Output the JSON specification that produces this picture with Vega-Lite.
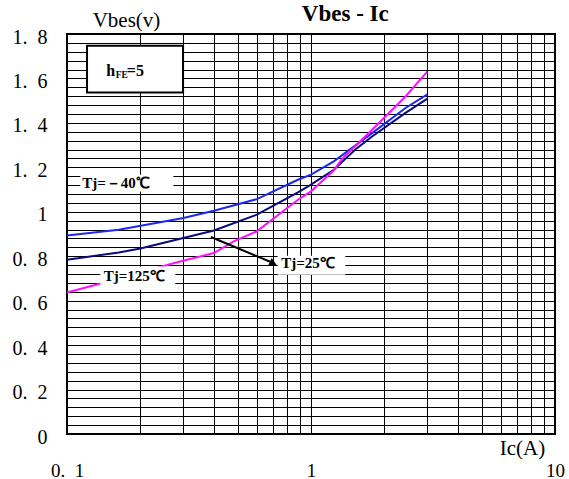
{
  "$schema": "https://vega.github.io/schema/vega-lite/v6.json",
  "autosize": "none",
  "width": 488,
  "height": 400,
  "padding": {"left": 67, "top": 34, "right": 14, "bottom": 45},
  "background": "white",
  "config": {
    "view": {"stroke": "black", "strokeWidth": 2},
    "axis": {"gridColor": "black", "gridWidth": 1, "gridOpacity": 1, "domain": false, "ticks": false, "labelOverlap": false, "labelFlush": false, "labelBound": false}
  },
  "datasets": {
    "curves": [
      {"series": "-40", "x": 0.1, "y": 0.893},
      {"series": "-40", "x": 0.163, "y": 0.919},
      {"series": "-40", "x": 0.3, "y": 0.972},
      {"series": "-40", "x": 0.4, "y": 1.005},
      {"series": "-40", "x": 0.6, "y": 1.057},
      {"series": "-40", "x": 0.884, "y": 1.144},
      {"series": "-40", "x": 1.0, "y": 1.167},
      {"series": "-40", "x": 1.24, "y": 1.227},
      {"series": "-40", "x": 1.78, "y": 1.354},
      {"series": "-40", "x": 2.44, "y": 1.467},
      {"series": "-40", "x": 3.0, "y": 1.528},
      {"series": "25", "x": 0.1, "y": 0.784},
      {"series": "25", "x": 0.163, "y": 0.817},
      {"series": "25", "x": 0.2, "y": 0.835},
      {"series": "25", "x": 0.4, "y": 0.916},
      {"series": "25", "x": 0.6, "y": 0.987},
      {"series": "25", "x": 0.884, "y": 1.087},
      {"series": "25", "x": 1.0, "y": 1.122},
      {"series": "25", "x": 1.24, "y": 1.189},
      {"series": "25", "x": 1.52, "y": 1.28},
      {"series": "25", "x": 1.78, "y": 1.339},
      {"series": "25", "x": 2.44, "y": 1.445},
      {"series": "25", "x": 3.0, "y": 1.509},
      {"series": "125", "x": 0.1, "y": 0.637},
      {"series": "125", "x": 0.141, "y": 0.681},
      {"series": "125", "x": 0.278, "y": 0.771},
      {"series": "125", "x": 0.4, "y": 0.8145},
      {"series": "125", "x": 0.482, "y": 0.867},
      {"series": "125", "x": 0.6, "y": 0.912},
      {"series": "125", "x": 0.884, "y": 1.054},
      {"series": "125", "x": 1.0, "y": 1.092},
      {"series": "125", "x": 1.24, "y": 1.186},
      {"series": "125", "x": 1.34, "y": 1.2375},
      {"series": "125", "x": 1.78, "y": 1.369},
      {"series": "125", "x": 2.44, "y": 1.519},
      {"series": "125", "x": 3.0, "y": 1.632}
    ],
    "whiteboxes": [
      {"x": 0.1134, "x2": 0.273, "y": 1.167, "y2": 1.09},
      {"x": 0.137, "x2": 0.278, "y": 0.754, "y2": 0.649},
      {"x": 0.73, "x2": 1.382, "y": 0.802, "y2": 0.717}
    ],
    "hfebox": [
      {"x": 0.1208, "x2": 0.299, "y": 1.747, "y2": 1.537}
    ],
    "arrow": [
      {"x": 0.389, "y": 0.8865, "x2": 0.68, "y2": 0.775}
    ],
    "arrowhead": [
      {"x": 0.694, "y": 0.769}
    ],
    "labels": [
      {"x": 0.1155, "y": 1.131, "label": "Tj=－40℃"},
      {"x": 0.1413, "y": 0.709, "label": "Tj=125℃"},
      {"x": 0.7556, "y": 0.7695, "label": "Tj=25℃"}
    ],
    "hfe_big": [
      {"x": 0.145, "y": 1.6124, "label": "h"},
      {"x": 0.1758, "y": 1.6124, "label": "=5"}
    ],
    "hfe_small": [
      {"x": 0.1585, "y": 1.6034, "label": "FE"}
    ],
    "title": [
      {"x": 1.382, "y": 1.857, "label": "Vbes - Ic"}
    ]
  },
  "encoding": {
    "x": {
      "field": "x",
      "type": "quantitative",
      "scale": {"type": "log", "domain": [0.1, 10], "nice": false},
      "axis": {
        "title": "Ic(A)",
        "titleFont": "Liberation Serif",
        "titleFontSize": 21,
        "titleFontWeight": "normal",
        "titleColor": "black",
        "titleX": 455,
        "titleY": 14,
        "titleAlign": "center",
        "titleBaseline": "middle",
        "values": [0.1, 0.2, 0.3, 0.4, 0.5, 0.6, 0.7, 0.8, 0.9, 1, 2, 3, 4, 5, 6, 7, 8, 9, 10],
        "labelExpr": "datum.value == 0.1 ? '0.\u00a0\u00a01' : datum.value == 1 ? '1' : datum.value == 10 ? '10' : ''",
        "labelFont": "Liberation Serif",
        "labelFontSize": 19,
        "labelColor": "black",
        "labelPadding": 42,
        "labelBaseline": "alphabetic",
        "grid": true
      }
    },
    "y": {
      "field": "y",
      "type": "quantitative",
      "scale": {"domain": [0, 1.8], "nice": false, "zero": false},
      "axis": {
        "title": "Vbes(v)",
        "titleFont": "Liberation Serif",
        "titleFontSize": 21,
        "titleFontWeight": "normal",
        "titleColor": "black",
        "titleAngle": 0,
        "titleX": 59,
        "titleY": -14,
        "titleAlign": "center",
        "titleBaseline": "middle",
        "values": [0, 0.04, 0.08, 0.12, 0.16, 0.2, 0.24, 0.28, 0.32, 0.36, 0.4, 0.44, 0.48, 0.52, 0.56, 0.6, 0.64, 0.68, 0.72, 0.76, 0.8, 0.84, 0.88, 0.92, 0.96, 1, 1.04, 1.08, 1.12, 1.16, 1.2, 1.24, 1.28, 1.32, 1.36, 1.4, 1.44, 1.48, 1.52, 1.56, 1.6, 1.64, 1.68, 1.72, 1.76, 1.8],
        "labelExpr": "datum.value == 0 ? '0' : datum.value == 1 ? '1' : (abs(datum.value * 5 - round(datum.value * 5)) < 0.0001 ? replace(format(datum.value, '.1f'), '.', '.\u00a0\u00a0') : '')",
        "labelFont": "Liberation Serif",
        "labelFontSize": 20,
        "labelColor": "black",
        "labelPadding": 20,
        "labelOffset": 3,
        "grid": true
      }
    }
  },
  "layer": [
    {
      "data": {"name": "curves"},
      "mark": {"type": "line", "strokeWidth": 2},
      "encoding": {
        "color": {
          "field": "series",
          "type": "nominal",
          "scale": {"domain": ["-40", "25", "125"], "range": ["#1a28f0", "#0a0a80", "#ff10ff"]},
          "legend": null
        },
        "order": {"field": "x", "type": "quantitative"}
      }
    },
    {
      "data": {"name": "whiteboxes"},
      "mark": {"type": "rect", "fill": "white", "stroke": null},
      "encoding": {
        "x2": {"field": "x2"},
        "y2": {"field": "y2"}
      }
    },
    {
      "data": {"name": "hfebox"},
      "mark": {"type": "rect", "fill": "white", "stroke": "black", "strokeWidth": 2},
      "encoding": {
        "x2": {"field": "x2"},
        "y2": {"field": "y2"}
      }
    },
    {
      "data": {"name": "arrow"},
      "mark": {"type": "rule", "color": "black", "strokeWidth": 2},
      "encoding": {
        "x2": {"field": "x2"},
        "y2": {"field": "y2"}
      }
    },
    {
      "data": {"name": "arrowhead"},
      "mark": {"type": "point", "shape": "M -0.41 0.25 L -0.06 -0.5 L 0.47 0.25 Z", "filled": true, "color": "black", "opacity": 1, "size": 420}
    },
    {
      "data": {"name": "labels"},
      "mark": {"type": "text", "font": "Liberation Serif", "fontSize": 15, "fontWeight": "bold", "align": "left", "baseline": "middle", "color": "black"},
      "encoding": {"text": {"field": "label"}}
    },
    {
      "data": {"name": "hfe_big"},
      "mark": {"type": "text", "font": "Liberation Serif", "fontSize": 16, "fontWeight": "bold", "align": "left", "baseline": "alphabetic", "color": "black"},
      "encoding": {"text": {"field": "label"}}
    },
    {
      "data": {"name": "hfe_small"},
      "mark": {"type": "text", "font": "Liberation Serif", "fontSize": 9.5, "fontWeight": "bold", "align": "left", "baseline": "alphabetic", "color": "black"},
      "encoding": {"text": {"field": "label"}}
    },
    {
      "data": {"name": "title"},
      "mark": {"type": "text", "font": "Liberation Serif", "fontSize": 23, "fontWeight": "bold", "align": "center", "baseline": "alphabetic", "color": "black", "clip": false},
      "encoding": {"text": {"field": "label"}}
    }
  ]
}
